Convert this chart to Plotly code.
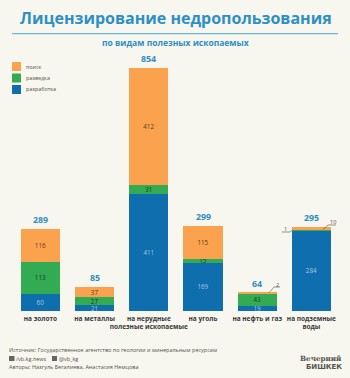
import plotly.graph_objects as go

W, H = 350, 378
categories = ["на золото", "на металлы", "на нерудные<br>полезные ископаемые", "на уголь", "на нефть и газ", "на подземные<br>воды"]
razrabotka = [60, 21, 411, 169, 19, 284]
razvedka = [113, 27, 31, 15, 43, 1]
poisk = [116, 37, 412, 115, 2, 10]
totals = [289, 85, 854, 299, 64, 295]
hidden_labels = {2, 1, 10}

ORANGE, GREEN, BLUE = "#fba24f", "#33ab52", "#0f6eae"
TITLE = "#2e8fc3"
BG = "#f7f6ef"
TXT = "#55534c"
FONT = "Open Sans"

def px(x): return x / W
def py(y): return 1 - y / H

BASE_Y = 311.0
PX_PER_UNIT = 243.5 / 854
X0, STEP = 40.4, 54.2

fig = go.Figure()
for name, vals, col, tcol in [
    ("разработка", razrabotka, BLUE, "#a5c8e2"),
    ("разведка", razvedka, GREEN, "#173f22"),
    ("поиск", poisk, ORANGE, "#5a3c1c"),
]:
    fig.add_bar(
        x=list(range(len(categories))), y=vals, name=name, marker=dict(color=col, line=dict(width=0)),
        text=["" if v in hidden_labels else str(v) for v in vals],
        textposition="inside", insidetextanchor="middle", textangle=0, constraintext="none",
        insidetextfont=dict(family=FONT, size=6.3, color=tcol), hoverinfo="skip", showlegend=False,
    )

ann, shp = [], []
for i, t in enumerate(totals):
    stack = razrabotka[i] + razvedka[i] + poisk[i]
    ann.append(dict(x=i, y=stack, xref="x", yref="y", yshift=8.5, text=str(t), showarrow=False,
                    font=dict(family=FONT, size=8.8, color=TITLE, weight="bold")))

def text(x, y, s, size, color=TXT, anchor="left", weight="normal", family=FONT):
    dx = {"left": -2, "right": 2, "center": 0}[anchor]
    ann.append(dict(x=px(x + dx), y=py(y), xref="paper", yref="paper", text=s, showarrow=False, xanchor=anchor,
                    yanchor="middle", align=anchor, font=dict(family=family, size=size, color=color, weight=weight)))

def rect(x0, y0, x1, y1, color):
    shp.append(dict(type="rect", xref="paper", yref="paper", x0=px(x0), x1=px(x1), y0=py(y0), y1=py(y1),
                    fillcolor=color, line=dict(width=0)))

def line(pts, color="#55534c", w=0.6):
    for (a, b), (c, d) in zip(pts, pts[1:]):
        shp.append(dict(type="line", xref="paper", yref="paper", x0=px(a), x1=px(c), y0=py(b), y1=py(d),
                        line=dict(color=color, width=w)))

text(176, 18, "Лицензирование недропользования", 16, TITLE, "center", "bold")
line([(12, 33.7), (338, 33.7)], "#45a8d6", 1)
text(175.5, 43, "по видам полезных ископаемых", 8.5, TITLE, "center", "bold")

for y, c, s in [(66.5, ORANGE, "поиск"), (78, GREEN, "разведка"), (89.5, BLUE, "разработка")]:
    rect(12, y - 4.5, 21, y + 4.5, c)
    text(26, y, s, 5.4)

line([(269, 292.7), (274, 287), (280, 287)])
text(277, 284.5, "2", 5.5, anchor="center")
line([(282, 232), (290, 232), (292.5, 230)])
text(285, 229.5, "1", 5.5, anchor="center")
line([(323, 229.3), (328, 225), (336, 225)])
text(332.5, 222, "10", 5.5, anchor="center")

text(9, 350, "Источник: Государственное агентство по геологии и минеральным ресурсам", 5.5)
rect(9, 356, 14.5, 361, "#66655f")
text(16, 358.5, "/vb.kg.news", 5.5)
rect(52, 356, 57, 361, "#66655f")
text(59, 358.5, "@vb_kg", 5.5)
text(9, 367, "Авторы: Назгуль Бегалиева, Анастасия Немцова", 5.5)
text(342, 358.8, "Вечерний", 7.2, "#55534c", "right", "bold", "DejaVu Serif")
text(342, 366.8, "БИШКЕК", 7, "#55534c", "right", "bold", "DejaVu Sans")

fig.update_layout(
    width=W, height=H, barmode="stack", bargap=0.28, margin=dict(l=0, r=0, t=0, b=0),
    paper_bgcolor=BG, plot_bgcolor=BG, showlegend=False, annotations=ann, shapes=shp,
    xaxis=dict(range=[-X0 / STEP, (W - X0) / STEP], tickmode="array", tickvals=list(range(len(categories))),
               ticktext=categories, showgrid=False, zeroline=False, showline=False, ticks="outside", ticklen=1,
               tickcolor="rgba(0,0,0,0)", tickangle=0,
               tickfont=dict(family=FONT, size=6.5, color="#3a3a38", weight="bold")),
    yaxis=dict(domain=[py(BASE_Y), 1], range=[0, BASE_Y / PX_PER_UNIT], visible=False),
)
fig.write_html("out.html", config={"displayModeBar": False},
               post_script="document.body.style.margin='0';document.body.style.overflow='hidden';")
